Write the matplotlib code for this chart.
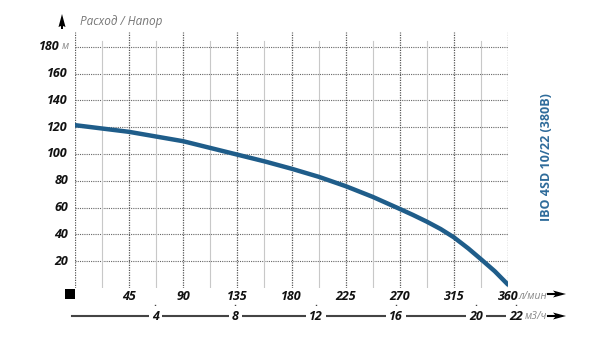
import matplotlib
matplotlib.use("Agg")
import matplotlib.pyplot as plt
from matplotlib.patches import Rectangle, Polygon

plt.rcParams['font.family'] = ['Open Sans', 'DejaVu Sans']

# Data
flow_lpm = [0, 22.5, 45, 67.5, 90, 112.5, 135, 157.5, 180, 202.5, 225, 247.5, 270, 281, 292.5, 304, 315, 327, 337.5, 349, 360]
head_m = [121.5, 119, 116.5, 113, 109.5, 104.5, 99.5, 94.5, 89, 83, 76, 68, 59, 54.5, 49.5, 44, 37.8, 29.5, 21.5, 12.5, 2.5]

x_ticks = [45, 90, 135, 180, 225, 270, 315, 360]
y_ticks = [20, 40, 60, 80, 100, 120, 140, 160, 180]
m3h_ticks = [4, 8, 12, 16, 20, 22]

title_text = "Расход / Напор"
model_text = "IBO 4SD 10/22 (380В)"
x_unit = "л/мин"
x2_unit = "м3/ч"
y_unit = "м"

W, H = 600, 346
fig = plt.figure(figsize=(6, 3.46), dpi=100)
L, R, B, T = 75, 508, 288, 32
ax = fig.add_axes([L / W, (H - B) / H, (R - L) / W, (B - T) / H])
ymax = 191
ax.set_xlim(0, 360)
ax.set_ylim(0, ymax)
ax.axis('off')

ppx = 360 / (R - L)
ppy = ymax / (B - T)

dot = (0, (1, 1))
# horizontal grid
for yv in y_ticks:
    ax.plot([0, 360], [yv, yv], color='#666666', lw=0.8, ls=dot, zorder=1)
# minor verticals
for xv in [22.5 + 45 * i for i in range(8)]:
    ax.plot([xv, xv], [0, 184], color='#c8c8c8', lw=0.8, ls='-', zorder=1)
# major verticals
for xv in [0] + x_ticks:
    ax.plot([xv, xv], [0, ymax], color='#555555', lw=0.9, ls=dot, zorder=1)

# curve
ax.plot(flow_lpm, head_m, color='#1f5d8a', lw=3.2, solid_capstyle='round',
        solid_joinstyle='round', zorder=3)

tick_font = dict(fontsize=9, fontweight='bold', fontstyle='italic', color='#111111')
unit_font = dict(fontsize=7.5, fontstyle='italic', color='#888888')

# y tick labels
for yv in y_ticks:
    if yv == 180:
        ax.text(-6 * ppx, yv, y_unit, ha='right', va='center', **unit_font)
        ax.text(-15 * ppx, yv, str(yv), ha='right', va='center', **tick_font)
    else:
        ax.text(-7 * ppx, yv, str(yv), ha='right', va='center', **tick_font)

# x tick labels (l/min)
for xv in x_ticks:
    ax.text(xv, -8 * ppy, str(xv), ha='center', va='center', **tick_font)
ax.text(360 + 10 * ppx, -8.5 * ppy, x_unit, ha='left', va='center', clip_on=False, **unit_font)

# second axis (m3/h)
y2 = -28 * ppy
ax.plot([-3 * ppx, 360 + 2 * ppx], [y2, y2], color='#444444', lw=1.5, clip_on=False, zorder=2)
for v in m3h_ticks:
    xv = v * 1000 / 60
    ax.plot([xv, xv], [-17 * ppy, -20.5 * ppy], color='#444444', lw=1.0, clip_on=False)
    ax.text(xv, y2, str(v), ha='center', va='center', clip_on=False,
            bbox=dict(boxstyle='square,pad=0.25', fc='white', ec='none'), zorder=4, **tick_font)
ax.text(22 * 1000 / 60 + 9 * ppx, y2 - 0.5 * ppy, x2_unit, ha='left', va='center', clip_on=False,
        bbox=dict(boxstyle='square,pad=0.1', fc='white', ec='none'), zorder=4, **unit_font)

# figure-level decorations (pixel coordinates)
def fx(px):
    return px / W

def fy(py):
    return (H - py) / H

def arrow_right(x0, x1, yc):
    fig.add_artist(matplotlib.lines.Line2D([fx(x0), fx(x1 - 8)], [fy(yc), fy(yc)], color='black', lw=1.5))
    fig.add_artist(Polygon([[fx(x1 - 13), fy(yc - 3.5)], [fx(x1), fy(yc)], [fx(x1 - 13), fy(yc + 3.5)],
                            [fx(x1 - 10), fy(yc)]], closed=True, fc='black', ec='none'))

arrow_right(548, 566, 294)
arrow_right(548, 566, 316)

# up arrow
fig.add_artist(Polygon([[fx(62), fy(14)], [fx(58.5), fy(27)], [fx(61), fy(26)], [fx(61), fy(29)],
                        [fx(63), fy(29)], [fx(63), fy(26)], [fx(65.5), fy(27)]],
                       closed=True, fc='black', ec='none'))
fig.text(fx(80), fy(22), title_text, ha='left', va='center', fontsize=8.5, fontstyle='italic', color='#777777')

# black square at origin
fig.add_artist(Rectangle((fx(65), fy(299)), 10 / W, 10 / H, fc='black', ec='none'))

# model text
fig.text(fx(547), fy(157), model_text, rotation=90, ha='center', va='center', fontsize=9,
         fontweight='bold', color='#2e6b9a')

fig.savefig('out.png', dpi=100, facecolor='white')
